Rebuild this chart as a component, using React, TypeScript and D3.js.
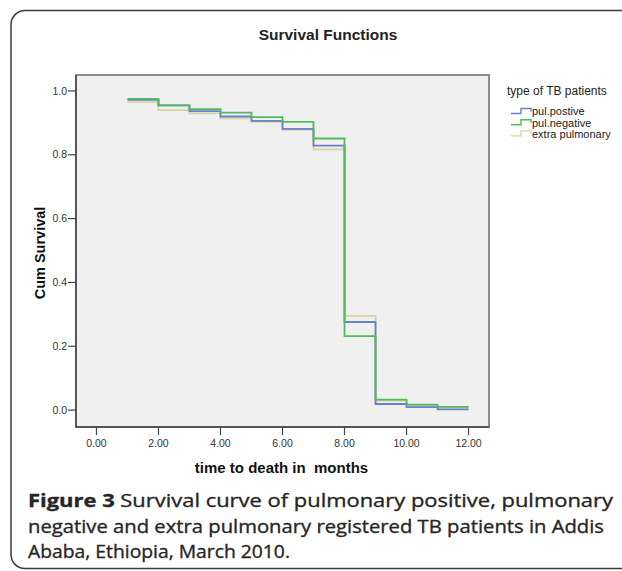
import * as d3 from 'd3';

// months where each step starts (last value runs to 12)
const months = [1, 2, 3, 4, 5, 6, 7, 8, 9, 10, 11, 12];
const pulPositive = [0.972, 0.955, 0.937, 0.920, 0.906, 0.881, 0.829, 0.276, 0.019, 0.009, 0.002];
const pulNegative = [0.975, 0.955, 0.943, 0.932, 0.918, 0.903, 0.851, 0.232, 0.033, 0.017, 0.010];
const extraPulmonary = [0.965, 0.940, 0.930, 0.914, 0.903, 0.878, 0.817, 0.295, 0.030, 0.015, 0.008];

const xTicks = [0, 2, 4, 6, 8, 10, 12];
const yTicks = [0, 0.2, 0.4, 0.6, 0.8, 1.0];

const series = [
  { name: 'extra pulmonary', values: extraPulmonary, color: '#d6d39c' },
  { name: 'pul.postive', values: pulPositive, color: '#6b7fd0' },
  { name: 'pul.negative', values: pulNegative, color: '#4fbb5c' },
];
const legendOrder = ['pul.postive', 'pul.negative', 'extra pulmonary'];

const W = 622;
const H = 571;
const plot = { left: 76, right: 489, top: 75, bottom: 427 };

const App = () => {
  const x = d3.scaleLinear().domain([-0.66, 12.66]).range([plot.left, plot.right]);
  const y = d3.scaleLinear().domain([-0.053, 1.05]).range([plot.bottom, plot.top]);

  const line = d3.line<[number, number]>()
    .x(d => x(d[0]))
    .y(d => y(d[1]))
    .curve(d3.curveStepAfter);

  const pts = (vals: number[]): [number, number][] => {
    const p = vals.map((v, i) => [months[i], v] as [number, number]);
    p.push([months[months.length - 1], vals[vals.length - 1]]);
    return p;
  };

  const sans = 'Liberation Sans, Arial, sans-serif';

  return (
    <svg width={W} height={H} style={{ position: 'absolute', left: 0, top: 0, background: '#fff' }}>
      <rect x={11} y={10.5} width={700} height={558} rx={14} fill="none" stroke="#3a3a3a" strokeWidth={1.5} />

      <text x={328} y={40} textAnchor="middle" fontFamily={sans} fontWeight="bold" fontSize={15.5} fill="#222">
        Survival Functions
      </text>

      <rect x={plot.left} y={plot.top} width={plot.right - plot.left} height={plot.bottom - plot.top}
        fill="#f0f0f0" stroke="#8c8c8c" strokeWidth={2} />
      <line x1={plot.left} x2={plot.left} y1={plot.top} y2={plot.bottom} stroke="#444" strokeWidth={1.5} />
      <line x1={plot.left} x2={plot.right} y1={plot.bottom} y2={plot.bottom} stroke="#444" strokeWidth={1.5} />

      {yTicks.map(t => (
        <g key={t} transform={`translate(0,${y(t)})`}>
          <line x1={plot.left - 8} x2={plot.left} stroke="#444" strokeWidth={1.2} />
          <text x={plot.left - 9} dy="0.35em" textAnchor="end" fontFamily={sans} fontSize={10.5} fill="#333">
            {t.toFixed(1)}
          </text>
        </g>
      ))}
      {xTicks.map(t => (
        <g key={t} transform={`translate(${x(t)},0)`}>
          <line y1={plot.bottom} y2={plot.bottom + 8} stroke="#444" strokeWidth={1.2} />
          <text y={plot.bottom + 20} textAnchor="middle" fontFamily={sans} fontSize={10.5} fill="#333">
            {t.toFixed(2)}
          </text>
        </g>
      ))}

      {series.map(s => (
        <path key={s.name} d={line(pts(s.values)) || ''} fill="none" stroke={s.color} strokeWidth={1.8} />
      ))}

      <text transform={`translate(45,${(plot.top + plot.bottom) / 2 + 2}) rotate(-90)`} textAnchor="middle"
        fontFamily={sans} fontWeight="bold" fontSize={14.5} fill="#111">
        Cum Survival
      </text>
      <text x={281.5} y={473} textAnchor="middle" fontFamily={sans} fontWeight="bold" fontSize={15}
        fill="#111" style={{ whiteSpace: 'pre' }}>
        {'time to death in  months'}
      </text>

      <text x={507} y={95} fontFamily={sans} fontSize={12} fill="#222">type of TB patients</text>
      {legendOrder.map((n, i) => {
        const s = series.find(d => d.name === n)!;
        const cy = 111.5 + i * 11.2;
        return (
          <g key={n}>
            <path d={`M511,${cy + 2}H521V${cy - 3}H531V${cy}`} fill="none" stroke={s.color} strokeWidth={1.4} />
            <text x={532} y={cy} dy="0.35em" fontFamily={sans} fontSize={11} fill="#222">{n}</text>
          </g>
        );
      })}

      <g fontFamily="'Open Sans', 'Noto Sans', sans-serif" fontSize={18.5} fill="#262626"
        stroke="#262626" strokeWidth={0.35}>
        <text x={28} y={507} textLength={585} lengthAdjust="spacingAndGlyphs">
          <tspan fontWeight="bold">Figure 3</tspan> Survival curve of pulmonary positive, pulmonary
        </text>
        <text x={28} y={532.5} textLength={576} lengthAdjust="spacingAndGlyphs">
          negative and extra pulmonary registered TB patients in Addis
        </text>
        <text x={28} y={558} textLength={262} lengthAdjust="spacingAndGlyphs">
          Ababa, Ethiopia, March 2010.
        </text>
      </g>
    </svg>
  );
};

export default App;
